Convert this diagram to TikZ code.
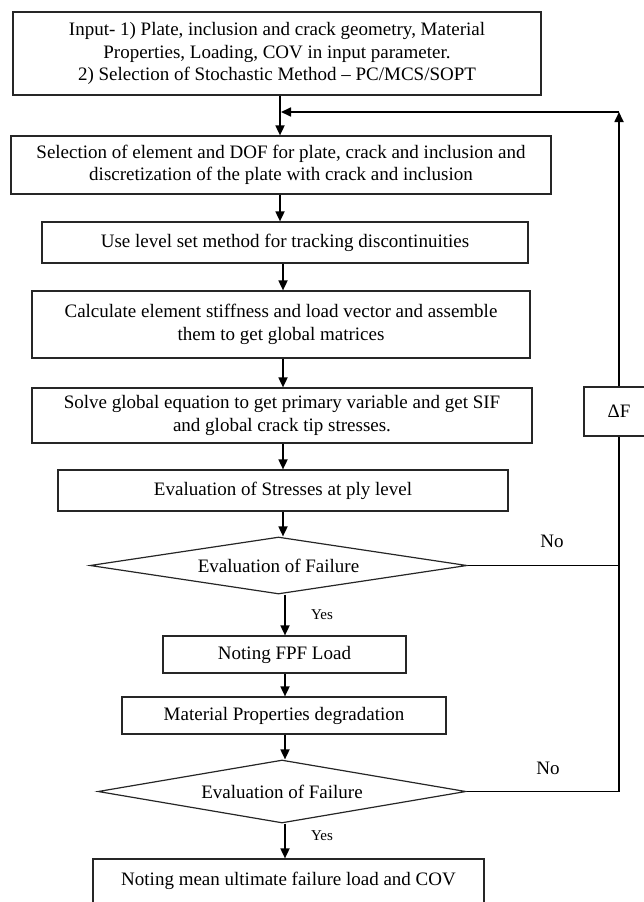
\documentclass[tikz,border=0pt]{standalone}
\usepackage{fontspec}
\setmainfont{Liberation Serif}
\usetikzlibrary{arrows.meta,shapes.geometric}
\begin{document}
\begin{tikzpicture}[x=1pt,y=-1pt,
  box/.style={draw=black!85,line width=1.2pt,rectangle,inner sep=0pt,align=center,
    font=\fontsize{19}{22.5}\selectfont},
  dia/.style={draw=black!85,line width=1.2pt,diamond,inner sep=0pt,shape aspect=6.6,
    font=\fontsize{19}{22.5}\selectfont},
  arr/.style={line width=1.7pt,-{Triangle[length=10pt,width=9pt]}},
  ln/.style={line width=1.7pt},
  lab/.style={font=\fontsize{19}{22}\selectfont},
  ylab/.style={font=\fontsize{15}{17}\selectfont}]
\useasboundingbox (0,0) rectangle (644,902);
\node[box,minimum width=528pt,minimum height=83pt] (b1) at (277,53.5)
  {Input- 1) Plate, inclusion and crack geometry, Material\\Properties, Loading, COV in input parameter.\\2) Selection of Stochastic Method -- PC/MCS/SOPT};
\node[box,minimum width=540pt,minimum height=58pt] (b2) at (281,165)
  {Selection of element and DOF for plate, crack and inclusion and\\discretization of the plate with crack and inclusion};
\node[box,minimum width=486pt,minimum height=41pt] (b3) at (285,242.5)
  {Use level set method for tracking discontinuities};
\node[box,minimum width=498pt,minimum height=67pt] (b4) at (281,324.5)
  {Calculate element stiffness and load vector and assemble\\them to get global matrices};
\node[box,minimum width=500pt,minimum height=55pt] (b5) at (282,415.5)
  {Solve global equation to get primary variable and get SIF\\and global crack tip stresses.};
\node[box,minimum width=70pt,minimum height=49pt] (dF) at (619,411.5) {ΔF};
\node[box,minimum width=450pt,minimum height=41pt] (b6) at (283,490.5)
  {Evaluation of Stresses at ply level};
\node[dia,minimum width=377pt,minimum height=57pt] (d1) at (278.5,565.5)
  {Evaluation of Failure};
\node[box,minimum width=243pt,minimum height=37pt] (b7) at (284.5,654.5)
  {Noting FPF Load};
\node[box,minimum width=324pt,minimum height=37pt] (b8) at (284,715.5)
  {Material Properties degradation};
\node[dia,minimum width=368pt,minimum height=63pt] (d2) at (282,791.5)
  {Evaluation of Failure};
\node[box,minimum width=391pt,minimum height=44pt] (b9) at (288.5,881)
  {Noting mean ultimate failure load and COV};
\node[lab] (no1) at (552,541) {No};
\node[lab] (no2) at (548,768) {No};
\node[ylab] (y1) at (322,615) {Yes};
\node[ylab] (y2) at (322,836) {Yes};
\coordinate (ax1) at (280,0);
\coordinate (ax2) at (283,0);
\coordinate (ax3) at (285,0);
\coordinate (top) at (619,112);
\draw[arr] (b1.south -| ax1) -- (b2.north -| ax1);
\draw[arr] (b2.south -| ax1) -- (b3.north -| ax1);
\draw[arr] (b3.south -| ax2) -- (b4.north -| ax2);
\draw[arr] (b4.south -| ax2) -- (b5.north -| ax2);
\draw[arr] (b5.south -| ax2) -- (b6.north -| ax2);
\draw[arr] (b6.south -| ax2) -- (d1.north -| ax2);
\draw[arr] (d1.south -| ax3) -- (b7.north -| ax3);
\draw[arr] (b7.south -| ax3) -- (b8.north -| ax3);
\draw[arr] (b8.south -| ax3) -- (d2.north -| ax3);
\draw[arr] (d2.south -| ax3) -- (b9.north -| ax3);
\draw[ln] (d1.east) -- (d1.east -| dF);
\draw[ln] (d2.east) -- (d2.east -| dF) -- (dF.south);
\draw[arr] (dF.north) -- (top);
\draw[arr] (top) -- ([xshift=1pt]top -| ax1);
\end{tikzpicture}
\end{document}
